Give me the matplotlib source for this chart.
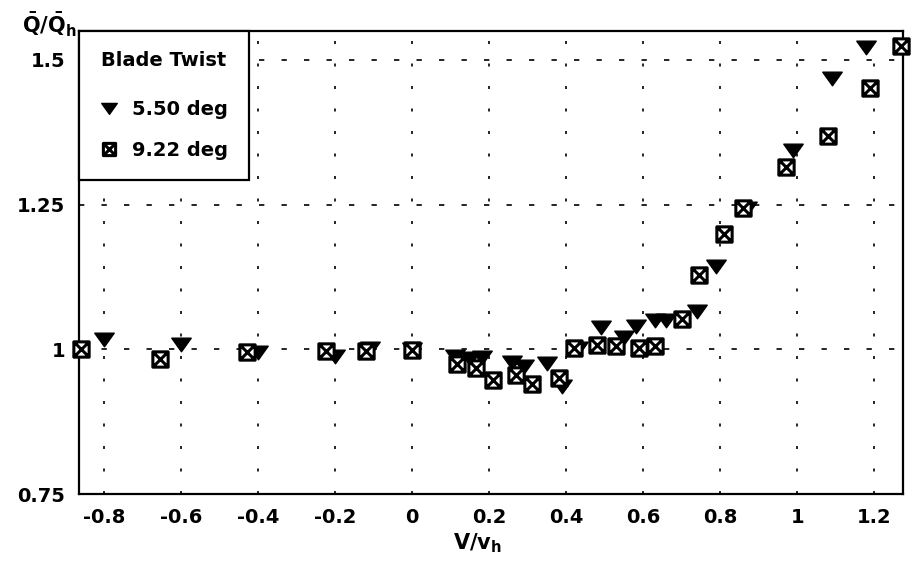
import numpy as np
import matplotlib
matplotlib.use('Agg')
import matplotlib.pyplot as plt
from matplotlib.path import Path

plt.rcParams['font.family'] = 'DejaVu Sans'
plt.rcParams['font.weight'] = 'bold'
plt.rcParams['mathtext.fontset'] = 'custom'
plt.rcParams['mathtext.rm'] = 'DejaVu Sans:bold'
plt.rcParams['mathtext.it'] = 'DejaVu Sans:bold'
plt.rcParams['mathtext.bf'] = 'DejaVu Sans:bold'

# torque ratio vs. advance ratio, two blade twists
v_550 = [-0.80, -0.60, -0.40, -0.20, -0.11, 0.00, 0.11, 0.15, 0.18, 0.26, 0.29,
         0.35, 0.39, 0.43, 0.49, 0.55, 0.58, 0.63, 0.66, 0.74, 0.79, 0.87, 0.99,
         1.09, 1.18]
q_550 = [1.017, 1.009, 0.996, 0.989, 1.003, 1.000, 0.988, 0.985, 0.986, 0.978, 0.972,
         0.976, 0.937, 1.003, 1.039, 1.022, 1.040, 1.050, 1.050, 1.067, 1.144, 1.244, 1.344,
         1.469, 1.522]

v_922 = [-0.86, -0.655, -0.43, -0.225, -0.12, 0.00, 0.115, 0.165, 0.21, 0.27, 0.31,
         0.38, 0.42, 0.48, 0.53, 0.59, 0.63, 0.70, 0.745, 0.81, 0.86, 0.97, 1.08,
         1.19, 1.27]
q_922 = [1.000, 0.984, 0.995, 0.997, 0.997, 0.998, 0.975, 0.968, 0.947, 0.956, 0.940,
         0.951, 1.003, 1.007, 1.006, 1.003, 1.005, 1.053, 1.129, 1.200, 1.244, 1.315, 1.369,
         1.452, 1.524]

xticks = [-0.8, -0.6, -0.4, -0.2, 0, 0.2, 0.4, 0.6, 0.8, 1, 1.2]
xticklabels = ['-0.8', '-0.6', '-0.4', '-0.2', '0', '0.2', '0.4', '0.6', '0.8', '1', '1.2']
yticks = [0.75, 1, 1.25, 1.5]
yticklabels = ['0.75', '1', '1.25', '1.5']

# flat downward triangle and a boxed "x"
tri = Path([(-1, 0.65), (1, 0.65), (0, -0.75), (-1, 0.65)],
           [Path.MOVETO, Path.LINETO, Path.LINETO, Path.CLOSEPOLY])
boxx = Path([(-1, -1), (1, -1), (1, 1), (-1, 1), (-1, -1),
             (-1, -1), (1, 1), (-1, 1), (1, -1)],
            [Path.MOVETO, Path.LINETO, Path.LINETO, Path.LINETO, Path.CLOSEPOLY,
             Path.MOVETO, Path.LINETO, Path.MOVETO, Path.LINETO])

fig = plt.figure(figsize=(9.17, 5.61), dpi=100)
ax = fig.add_axes([79 / 917, 67 / 561, 824 / 917, 463 / 561])

ax.plot(v_550, q_550, linestyle='none', marker=tri, markersize=14,
        color='black', label='5.50 deg', clip_on=False, zorder=3)
ax.plot(v_922, q_922, linestyle='none', marker=boxx, markersize=11,
        markerfacecolor='white', markeredgecolor='black', markeredgewidth=2.2,
        label='9.22 deg', clip_on=False, zorder=4)

ax.set_xlim(-0.866, 1.275)
ax.set_ylim(0.75, 1.55)
ax.set_xticks(xticks)
ax.set_xticklabels(xticklabels)
ax.set_yticks(yticks)
ax.set_yticklabels(yticklabels)
ax.tick_params(length=0, labelsize=14, pad=10)
for lab in ax.get_xticklabels() + ax.get_yticklabels():
    lab.set_fontweight('bold')

ax.xaxis.grid(True, color='black', linewidth=1.2, linestyle=(0, (1.8, 11.7)))
ax.yaxis.grid(True, color='black', linewidth=1.2, linestyle=(0, (3.2, 10.3)))
for sp in ax.spines.values():
    sp.set_linewidth(1.6)
    sp.set_color('black')

leg = ax.legend(loc='upper left', bbox_to_anchor=(0, 1), borderaxespad=0,
                title='Blade Twist', fontsize=14, numpoints=1, markerscale=0.8,
                handlelength=1.0, handletextpad=0.7, labelspacing=1.1,
                borderpad=1.05, fancybox=False, framealpha=1, edgecolor='black',
                title_fontproperties={'weight': 'bold', 'size': 14})
leg.get_frame().set_linewidth(1.6)
leg.set_zorder(10)
# a bit more room between the title and the entries
leg._legend_box.sep = 1.1 * 14 + 6

fig.text(49 / 917, 1 - 25 / 561, r'$\bar{\mathrm{Q}}/\bar{\mathrm{Q}}_\mathrm{h}$',
         fontsize=15, ha='center', va='center')
fig.text(477 / 917, 1 - 543 / 561, r'$\mathrm{V/v_h}$',
         fontsize=15, ha='center', va='center')

fig.savefig('out.png', dpi=100)
